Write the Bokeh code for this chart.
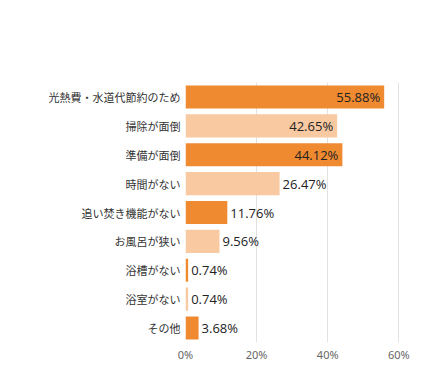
from bokeh.plotting import figure
from bokeh.models import ColumnDataSource, FixedTicker, PrintfTickFormatter, FactorRange, Range1d, Label
from bokeh.core.properties import value
from bokeh.embed import file_html
from bokeh.resources import INLINE

title_text = "Q：あまり浸からない理由（複数回答可/136人中）"
categories = ["光熱費・水道代節約のため", "掃除が面倒", "準備が面倒", "時間がない",
              "追い焚き機能がない", "お風呂が狭い", "浴槽がない", "浴室がない", "その他"]
values = [55.88, 42.65, 44.12, 26.47, 11.76, 9.56, 0.74, 0.74, 3.68]
x_ticks = [0, 20, 40, 60]

dark = "#F08A30"
light = "#F9C9A2"
colors = [dark if i % 2 == 0 else light for i in range(len(categories))]
inside = [v > 40 for v in values]
labels = [f"{v:.2f}%" for v in values]

src = ColumnDataSource(dict(
    cat=categories, val=values, color=colors, label=labels,
    align=["right" if f else "left" for f in inside],
    xoff=[-4 if f else 3 for f in inside],
))

W, H = 431, 367
BL, BR, BT, BB = 185, 22, 82, 25
FH = H - BT - BB

p = figure(width=W, height=H, output_backend="svg", toolbar_location=None,
           y_range=FactorRange(*list(reversed(categories)), range_padding=0),
           x_range=Range1d(0, 63),
           min_border_left=BL, min_border_right=BR, min_border_top=BT, min_border_bottom=BB)

title = Label(x=-BL + 8, y=FH + BT - 2, x_units="screen", y_units="screen", text=title_text,
              text_font="Noto Sans CJK JP", text_font_size="18px", text_font_style="bold",
              text_color="#333333", text_baseline="top", text_align="left")
p.add_layout(title)

p.hbar(y="cat", right="val", left=0, height=0.8, color="color", source=src, line_color=None)
p.text(x="val", y="cat", text="label", text_align="align", x_offset="xoff",
       text_baseline="middle", text_font=value("Open Sans"), text_font_size="13px",
       text_color="#222222", source=src)

p.outline_line_color = None
p.ygrid.grid_line_color = None
p.xgrid.grid_line_color = "#e2e2e2"
p.xgrid.ticker = FixedTicker(ticks=x_ticks)

p.xaxis.ticker = FixedTicker(ticks=x_ticks)
p.xaxis.formatter = PrintfTickFormatter(format="%d%%")
p.xaxis.axis_line_color = None
p.xaxis.major_tick_line_color = None
p.xaxis.minor_tick_line_color = None
p.xaxis.major_tick_out = 0
p.xaxis.major_tick_in = 0
p.xaxis.major_label_text_font = "Noto Sans"
p.xaxis.major_label_text_font_size = "11px"
p.xaxis.major_label_text_color = "#666666"
p.xaxis.major_label_standoff = 4

p.yaxis.axis_line_color = None
p.yaxis.major_tick_line_color = None
p.yaxis.minor_tick_line_color = None
p.yaxis.major_tick_out = 0
p.yaxis.major_tick_in = 0
p.yaxis.major_label_text_font = "Noto Sans CJK JP"
p.yaxis.major_label_text_font_size = "11px"
p.yaxis.major_label_text_color = "#333333"
p.yaxis.major_label_standoff = 5

open("out.html", "w").write(file_html(p, INLINE))
